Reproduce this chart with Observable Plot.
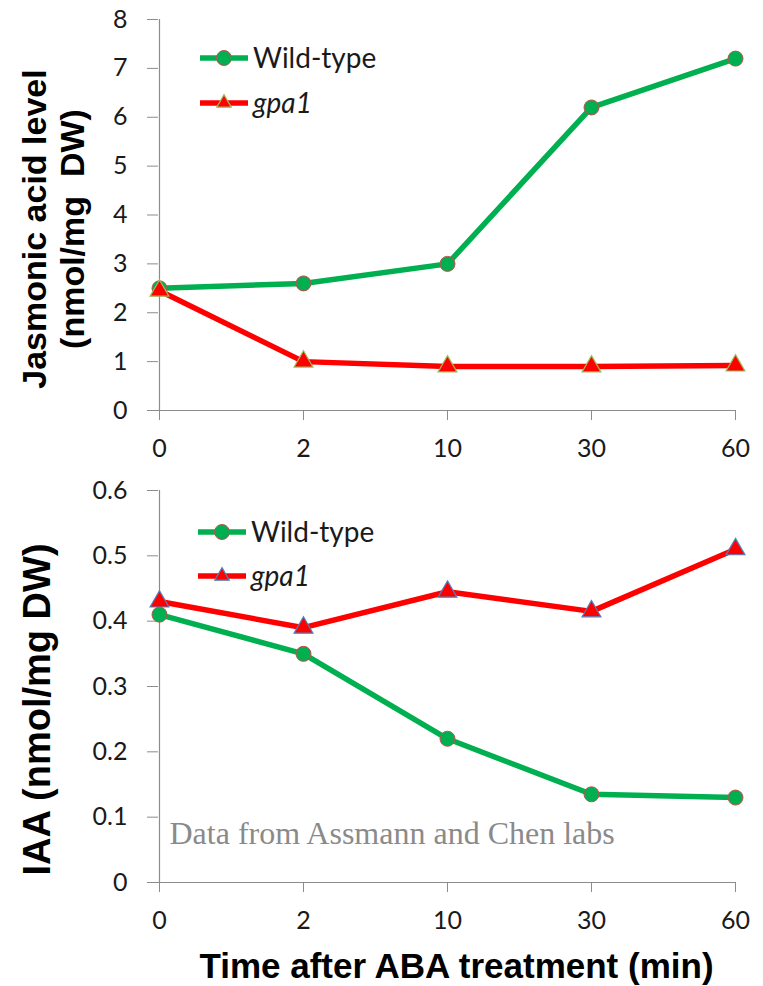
<!DOCTYPE html>
<html><head><meta charset="utf-8">
<script src="https://cdn.jsdelivr.net/npm/d3@7"></script>
<script src="https://cdn.jsdelivr.net/npm/@observablehq/plot@0.6"></script>
<style>
body{margin:0;background:#fff;}
#chart svg{display:block;}
</style>
</head><body><div id="chart"></div>
<script>
// ---- data ----
const times = ["0", "2", "10", "30", "60"];
const seriesNames = ["Wild-type", "gpa1"];
const jaWild = [2.5, 2.6, 3.0, 6.2, 7.2];
const jaGpa1 = [2.45, 1.0, 0.9, 0.9, 0.92];
const iaaWild = [0.41, 0.35, 0.22, 0.135, 0.13];
const iaaGpa1 = [0.43, 0.39, 0.445, 0.415, 0.51];
const jaTicks = [0, 1, 2, 3, 4, 5, 6, 7, 8];
const iaaTicks = [0, 0.1, 0.2, 0.3, 0.4, 0.5, 0.6];
const iaaTickLabels = ["0", "0.1", "0.2", "0.3", "0.4", "0.5", "0.6"];
const jaTitle = ["Jasmonic acid level", "(nmol/mg  DW)"];
const iaaTitle = "IAA (nmol/mg DW)";
const xTitle = "Time after ABA treatment (min)";
const note = "Data from Assmann and Chen labs";

// ---- styles ----
const GREEN = "#00B050", RED = "#FF0000";
const TICKFONT = "Lato, 'Open Sans', sans-serif";
const TITLEFONT = "'Liberation Sans', Arial, sans-serif";
const AXIS = "#8c8c8c";

function rows(wild, gpa) {
  const out = [];
  times.forEach((t, i) => out.push({t, v: wild[i], s: seriesNames[0]}));
  times.forEach((t, i) => out.push({t, v: gpa[i], s: seriesNames[1]}));
  return out;
}

function legendMark(x0, y0, gap, triStroke) {
  return () => {
    const g = d3.create("svg:g");
    seriesNames.forEach((name, i) => {
      const y = y0 + i * gap;
      const color = i === 0 ? GREEN : RED;
      g.append("line").attr("x1", x0).attr("x2", x0 + 48).attr("y1", y).attr("y2", y)
        .attr("stroke", color).attr("stroke-width", 5.5);
      if (i === 0) {
        g.append("circle").attr("cx", x0 + 24).attr("cy", y).attr("r", 7.5)
          .attr("fill", GREEN).attr("stroke", "#C0504D").attr("stroke-width", 1);
      } else {
        g.append("path").attr("transform", `translate(${x0 + 24},${y})`)
          .attr("d", d3.symbol(d3.symbolTriangle2, 150)())
          .attr("fill", RED).attr("stroke", triStroke).attr("stroke-width", 1.2);
      }
      g.append("text").attr("x", x0 + 53).attr("y", y).attr("dy", "0.35em")
        .attr("text-anchor", "start")
        .attr("font-family", TICKFONT).attr("font-size", 28)
        .attr("font-style", i === 1 ? "italic" : "normal")
        .attr("fill", "#1a1a1a").text(name);
    });
    return g.node();
  };
}

function panel({data, ticks, tickFormat, yDomain, height, marginTop, marginBottom, triStroke, extra}) {
  return Plot.plot({
    width: 763,
    height,
    marginLeft: 158,
    marginRight: 27,
    marginTop,
    marginBottom,
    style: {background: "#fff", overflow: "visible"},
    x: {type: "point", domain: times, padding: 0},
    y: {domain: yDomain},
    marks: [
      Plot.ruleX([times[0]], {stroke: AXIS, strokeWidth: 1.2}),
      Plot.ruleY([0], {stroke: AXIS, strokeWidth: 1.2}),
      Plot.axisY({ticks, tickSize: 11, tickPadding: 20, stroke: AXIS, fill: "#1a1a1a",
        fontSize: 25, fontFamily: TICKFONT, label: null, tickFormat}),
      Plot.axisX({tickSize: 10, tickPadding: 19, stroke: AXIS, fill: "#1a1a1a",
        fontSize: 25, fontFamily: TICKFONT, label: null}),
      Plot.line(data, {x: "t", y: "v", z: "s",
        stroke: d => d.s === seriesNames[0] ? GREEN : RED, strokeWidth: 5.5}),
      Plot.dot(data.filter(d => d.s === seriesNames[0]), {x: "t", y: "v", r: 7.5,
        fill: GREEN, stroke: "#C0504D", strokeWidth: 1}),
      Plot.dot(data.filter(d => d.s === seriesNames[1]), {x: "t", y: "v", r: 7,
        symbol: "triangle", fill: RED, stroke: triStroke, strokeWidth: 1.2}),
      ...extra
    ]
  });
}

const titleStyle = {fontWeight: "bold", fontFamily: TITLEFONT, fill: "#000",
  textAnchor: "middle", lineAnchor: "middle"};

const topPanel = panel({
  data: rows(jaWild, jaGpa1),
  ticks: jaTicks,
  tickFormat: d => String(d),
  yDomain: [0, 8],
  height: 462,
  marginTop: 19,
  marginBottom: 52,
  triStroke: "#9BBB59",
  extra: [
    legendMark(200, 58, 45, "#9BBB59"),
    Plot.text([jaTitle[0]], {frameAnchor: "left", text: d => d, rotate: -90, dx: -123, dy: 14,
      fontSize: 34, ...titleStyle}),
    Plot.text([jaTitle[1]], {frameAnchor: "left", text: d => d, rotate: -90, dx: -85, dy: 14,
      fontSize: 34, ...titleStyle})
  ]
});

const bottomPanel = panel({
  data: rows(iaaWild, iaaGpa1),
  ticks: iaaTicks,
  tickFormat: d => iaaTickLabels[iaaTicks.indexOf(d)] ?? String(d),
  yDomain: [0, 0.6],
  height: 524,
  marginTop: 28,
  marginBottom: 104,
  triStroke: "#4F81BD",
  extra: [
    legendMark(198, 70, 44, "#4F81BD"),
    Plot.text([iaaTitle], {frameAnchor: "left", text: d => d, rotate: -90, dx: -121, dy: 23,
      fontSize: 38, ...titleStyle}),
    Plot.text([xTitle], {frameAnchor: "bottom", text: d => d, dx: 9, dy: 84,
      fontSize: 35, ...titleStyle}),
    Plot.text([note], {frameAnchor: "bottom-left", text: d => d, textAnchor: "start", lineAnchor: "middle",
      dx: 11, dy: -49,
      fontSize: 32, fontFamily: "'Liberation Serif', 'Times New Roman', serif", fill: "#8a8a8a"})
  ]
});

const chart = document.getElementById("chart");
chart.appendChild(topPanel);
chart.appendChild(bottomPanel);
</script>
</body></html>
